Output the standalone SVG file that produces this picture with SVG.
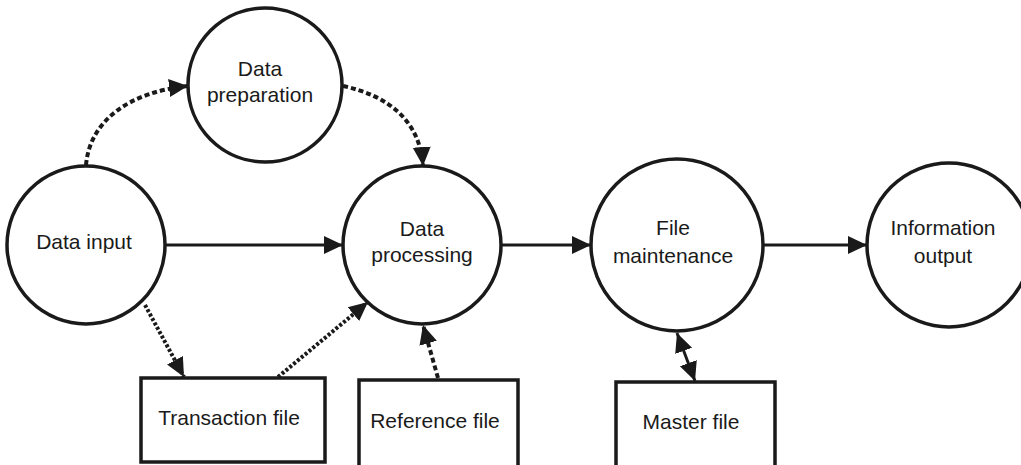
<svg xmlns="http://www.w3.org/2000/svg" width="1021" height="465" viewBox="0 0 1021 465">
<defs>
<style>
.node{fill:#fff;stroke:#1a1a1a;stroke-width:3.5}
.lbl{font-family:"Liberation Sans",Arial,sans-serif;font-size:21px;fill:#1a1a1a;text-anchor:middle}
.solid{fill:none;stroke:#1a1a1a;stroke-width:3}
.dot{fill:none;stroke:#1a1a1a;stroke-width:4;stroke-dasharray:5 3}
.dot2{fill:none;stroke:#1a1a1a;stroke-width:4;stroke-dasharray:3 2}
</style>
<marker id="ah" markerUnits="userSpaceOnUse" markerWidth="20" markerHeight="20" viewBox="0 0 20 20" refX="19" refY="10" orient="auto-start-reverse">
<path d="M0,1 L19,10 L0,19 Z" fill="#1a1a1a"/>
</marker>
</defs>
<rect width="1021" height="465" fill="#fff"/>
<g id="connectors">
<path class="solid" d="M166,245 L343,245" marker-end="url(#ah)"/>
<path class="solid" d="M501,245 L591,245" marker-end="url(#ah)"/>
<path class="solid" d="M764,245 L867,245" marker-end="url(#ah)"/>
<path class="dot" d="M86,165 C90,120 130,92 188,86" marker-end="url(#ah)"/>
<path class="dot" d="M343,86 C390,96 420,122 423,166" marker-end="url(#ah)"/>
<path class="dot2" d="M145,305 L184,377" marker-end="url(#ah)"/>
<path class="dot2" d="M278,377 L368,302" marker-end="url(#ah)"/>
<path class="dot" d="M438,378 L423,325" marker-end="url(#ah)"/>
<path class="solid" d="M677,333 L695,381" marker-start="url(#ah)" marker-end="url(#ah)"/>
</g>
<g id="data-preparation">
<circle class="node" cx="265" cy="85" r="77"/>
<text class="lbl" x="260" y="76">Data</text>
<text class="lbl" x="260" y="102">preparation</text>
</g>
<g id="data-input">
<circle class="node" cx="86" cy="245" r="79"/>
<text class="lbl" x="84" y="249">Data input</text>
</g>
<g id="data-processing">
<circle class="node" cx="422" cy="245" r="79"/>
<text class="lbl" x="422" y="236">Data</text>
<text class="lbl" x="422" y="262">processing</text>
</g>
<g id="file-maintenance">
<circle class="node" cx="677" cy="245" r="86"/>
<text class="lbl" x="673" y="235">File</text>
<text class="lbl" x="673" y="263">maintenance</text>
</g>
<g id="information-output">
<circle class="node" cx="949" cy="245" r="82"/>
<text class="lbl" x="943" y="235">Information</text>
<text class="lbl" x="943" y="263">output</text>
</g>
<g id="transaction-file">
<rect class="node" x="141" y="378" width="184" height="84"/>
<text class="lbl" x="229" y="425">Transaction file</text>
</g>
<g id="reference-file">
<rect class="node" x="359" y="380" width="159" height="100"/>
<text class="lbl" x="435" y="428">Reference file</text>
</g>
<g id="master-file">
<rect class="node" x="616" y="382" width="159" height="100"/>
<text class="lbl" x="691" y="429">Master file</text>
</g>
</svg>
